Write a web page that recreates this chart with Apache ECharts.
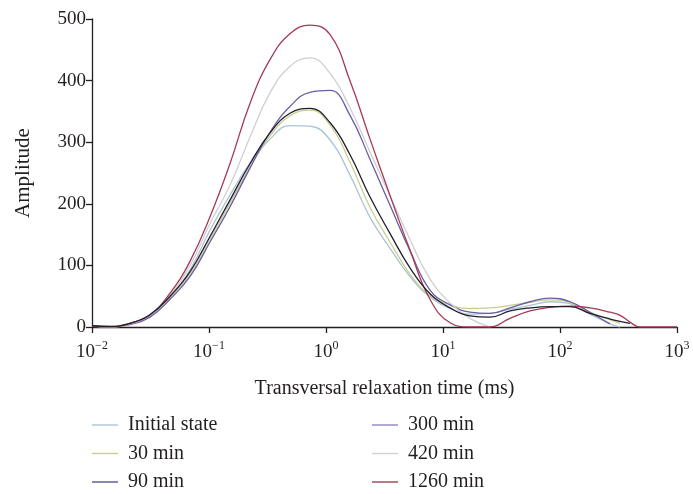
<!DOCTYPE html>
<html>
<head>
<meta charset="utf-8">
<script src="https://cdn.jsdelivr.net/npm/echarts@6/dist/echarts.min.js"></script>
<style>html,body{margin:0;padding:0;background:#fff}#c{width:693px;height:494px}</style>
</head>
<body>
<div id="c"></div>
<script>
// Relaxation times (ms)
const times = [0.01,0.0143,0.0211,0.0313,0.0465,0.0689,0.102,0.151,0.224,0.332,0.492,0.730,1.08,1.60,2.38,3.52,5.22,7.74,11.5,17.0,25.2,37.4,55.4,82.1,122,180,267,326,396,483,1000];
const initialState = [2,0,5,18,48,93,157,214,266,305,327,326,304,247,178,128,82,49,30,21,22,29,35,41,38,21,5,0,null,null,null];
const min30 = [2,1,6,19,48,86,143,201,260,310,343,352,328,268,194,138,86,51,36,30,31,35,40,44,40,24,12,6,null,null,null];
const min90 = [2,1,6,20,50,90,147,206,265,315,347,355,332,280,211,152,96,54,31,18,16,26,31,33,33,22,13,9,6,null,null];
const min300 = [1,0,4,16,45,82,138,195,258,316,358,381,384,344,272,198,124,60,36,24,22,31,41,47,41,24,5,null,null,null,null];
const min420 = [2,0,5,19,52,100,168,230,308,380,423,437,412,356,284,213,142,78,39,14,0,null,null,null,null,null,null,null,null,null,null];
const min1260 = [2,0,6,20,55,107,179,265,363,434,476,490,475,400,305,214,125,45,7,0,0,14,26,32,34,31,24,19,8,0,0];

const seriesNames = ['Initial state','30 min','90 min','300 min','420 min','1260 min'];
const seriesValues = [initialState, min30, min90, min300, min420, min1260];
const lineColors = ['#a9c5d5','#c9ce8e','#1f1f30','#6b5ca5','#cfcfcf','#a63a55'];
const legendColors = ['#a9c5d5','#c9ce8e','#55559a','#9484bd','#d3d3d3','#a63a55'];
const yTicks = {min: 0, max: 500, interval: 100};

const font = '"Liberation Serif", "DejaVu Serif", serif';
const ink = '#231f20';

const series = seriesNames.map((n, i) => ({
  name: n,
  type: 'line',
  smooth: 0.45,
  symbol: 'none',
  showSymbol: false,
  connectNulls: false,
  lineStyle: {color: lineColors[i], width: 1.3},
  itemStyle: {color: lineColors[i]},
  z: i === 2 ? 10 : 2,
  data: times.map((t, k) => [t, seriesValues[i][k]])
}));

function legendItems(idx) {
  return idx.map(i => ({name: seriesNames[i], icon: 'rect', itemStyle: {color: legendColors[i], borderWidth: 0}}));
}

function makeLegend(left, idx) {
  return {
    show: true,
    orient: 'vertical',
    left: left,
    top: 415,
    height: 79,
    padding: 0,
    itemWidth: 26,
    itemHeight: 1.4,
    itemGap: 8.5,
    data: legendItems(idx),
    textStyle: {fontFamily: font, fontSize: 20, color: ink, lineHeight: 20, padding: [0, 0, 0, 5]}
  };
}

const chart = echarts.init(document.getElementById('c'), null, {renderer: 'canvas'});
chart.setOption({
  animation: false,
  backgroundColor: '#fff',
  grid: {left: 92, right: 16, top: 19, bottom: 167, containLabel: false},
  legend: [makeLegend(92, [0,1,2]), makeLegend(372, [3,4,5])],
  xAxis: {
    type: 'log',
    logBase: 10,
    min: 0.01,
    max: 1000,
    name: 'Transversal relaxation time (ms)',
    nameLocation: 'middle',
    nameGap: 52,
    nameTextStyle: {fontFamily: font, fontSize: 20, color: ink},
    axisLine: {show: true, lineStyle: {color: ink, width: 1.3}},
    axisTick: {show: true, inside: false, length: 6, lineStyle: {color: ink, width: 1.3}},
    splitLine: {show: false},
    minorTick: {show: false},
    axisLabel: {
      margin: 13,
      formatter: function (v) {
        const e = Math.round(Math.log10(v));
        return '{b|10}{s|' + (e < 0 ? '\u2212' + (-e) : e) + '}';
      },
      rich: {
        b: {fontFamily: font, fontSize: 19, color: ink, verticalAlign: 'bottom', lineHeight: 22},
        s: {fontFamily: font, fontSize: 12, color: ink, verticalAlign: 'top', lineHeight: 12}
      }
    }
  },
  yAxis: {
    type: 'value',
    min: yTicks.min,
    max: yTicks.max,
    interval: yTicks.interval,
    name: 'Amplitude',
    nameLocation: 'middle',
    nameGap: 58,
    nameTextStyle: {fontFamily: font, fontSize: 21, color: ink},
    axisLine: {show: true, lineStyle: {color: ink, width: 1.3}},
    axisTick: {show: true, inside: false, length: 6, lineStyle: {color: ink, width: 1.3}},
    splitLine: {show: false},
    axisLabel: {fontFamily: font, fontSize: 19, color: ink, margin: 6}
  },
  series: series
});
</script>
</body>
</html>
